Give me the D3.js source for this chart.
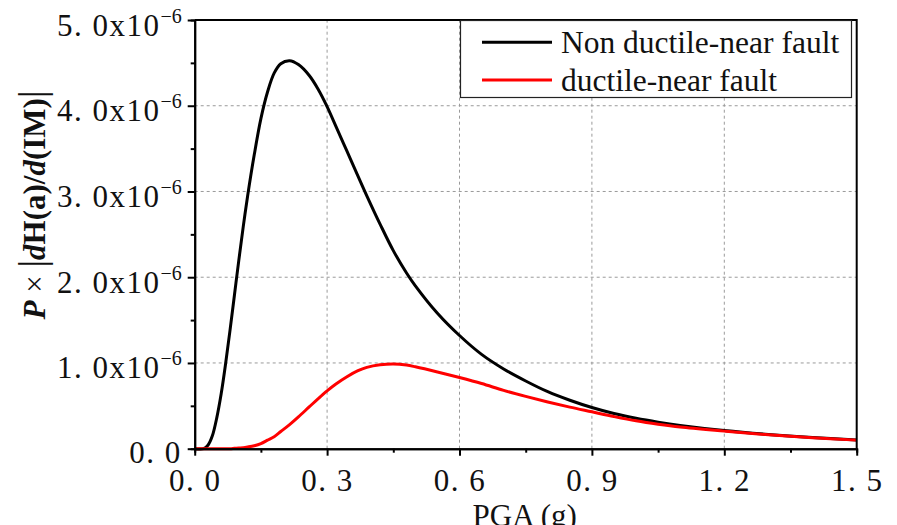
<!DOCTYPE html>
<html>
<head>
<meta charset="utf-8">
<script src="https://cdn.jsdelivr.net/npm/d3@7/dist/d3.min.js"></script>
<style>
  body { margin: 0; background: #fff; }
  svg { display: block; font-family: "Liberation Serif", "Times New Roman", serif; }
</style>
</head>
<body>
<svg id="chart" width="897" height="525"></svg>
<script>
// values, in units of 1e-6
const unit = 1e-6;
const pga = [0, 0.02, 0.03, 0.04, 0.05, 0.06, 0.07, 0.08, 0.09, 0.10, 0.11, 0.12, 0.135, 0.15, 0.165,
  0.18, 0.195, 0.215, 0.235, 0.26, 0.28, 0.30, 0.32, 0.345, 0.37, 0.39, 0.42, 0.45, 0.48, 0.50, 0.55,
  0.60, 0.65, 0.70, 0.75, 0.80, 0.85, 0.90, 0.95, 1.00, 1.05, 1.10, 1.20, 1.30, 1.40, 1.50];
const nonDuctile = [0, 0, 0.04, 0.15, 0.36, 0.64, 0.99, 1.38, 1.79, 2.20, 2.59, 2.95, 3.43, 3.85, 4.16,
  4.38, 4.49, 4.525, 4.48, 4.35, 4.19, 3.99, 3.76, 3.47, 3.18, 2.95, 2.62, 2.31, 2.05, 1.90, 1.58,
  1.32, 1.10, 0.93, 0.79, 0.665, 0.565, 0.48, 0.41, 0.355, 0.31, 0.272, 0.212, 0.166, 0.13, 0.102];
const ductile = [0, 0, 0, 0, 0, 0, 0, 0, 0.004, 0.008, 0.012, 0.02, 0.035, 0.06, 0.10,
  0.14, 0.20, 0.28, 0.37, 0.49, 0.585, 0.675, 0.755, 0.84, 0.91, 0.948, 0.978, 0.988, 0.975, 0.955, 0.895,
  0.83, 0.76, 0.68, 0.61, 0.545, 0.485, 0.43, 0.375, 0.325, 0.285, 0.252, 0.205, 0.162, 0.128, 0.10];

const xTicks = [0, 0.3, 0.6, 0.9, 1.2, 1.5];
const xMinor = [0.15, 0.45, 0.75, 1.05, 1.35];
const yTicks = [0, 1, 2, 3, 4, 5];
const yMinor = [0.5, 1.5, 2.5, 3.5, 4.5];
const seriesNames = ["Non ductile-near fault", "ductile-near fault"];
const seriesColors = ["#000000", "#ff0000"];

const width = 897, height = 525;
const margin = { top: 20, right: 40.3, bottom: 76.3, left: 194.7 };

const svg = d3.select("#chart");

const x = d3.scaleLinear().domain([0, 1.5]).range([margin.left, width - margin.right]);
const y = d3.scaleLinear().domain([0, 5 * unit]).range([height - margin.bottom, margin.top]);

const fmt = d3.format(".1f");
const spaced = (v) => fmt(v).replace(".", ". ");

// grid
svg.append("g")
  .selectAll("line")
  .data(xTicks.slice(1, -1))
  .join("line")
  .attr("x1", (d) => x(d)).attr("x2", (d) => x(d))
  .attr("y1", y(0)).attr("y2", y(5 * unit))
  .attr("stroke", "#9a9a9a").attr("stroke-width", 1).attr("stroke-dasharray", "3,3");
svg.append("g")
  .selectAll("line")
  .data(yTicks.slice(1, -1))
  .join("line")
  .attr("x1", x(0)).attr("x2", x(1.5))
  .attr("y1", (d) => y(d * unit)).attr("y2", (d) => y(d * unit))
  .attr("stroke", "#9a9a9a").attr("stroke-width", 1).attr("stroke-dasharray", "3,3");

// curves
const series = [nonDuctile, ductile];
const line = d3.line()
  .x((d, i) => x(pga[i]))
  .y((d) => y(d * unit))
  .curve(d3.curveCatmullRom.alpha(0.5));

svg.append("g")
  .selectAll("path")
  .data(series)
  .join("path")
  .attr("d", (d) => line(d))
  .attr("fill", "none")
  .attr("stroke", (d, i) => seriesColors[i])
  .attr("stroke-width", 3)
  .attr("stroke-linejoin", "round");

// frame (top and right)
svg.append("path")
  .attr("d", `M${x(0)},${y(5 * unit)}H${x(1.5)}V${y(0)}`)
  .attr("fill", "none").attr("stroke", "#000").attr("stroke-width", 2);

// x axis
const xAxis = svg.append("g").attr("transform", `translate(0,${y(0)})`);
xAxis.call(d3.axisBottom(x).tickValues(xTicks).tickSize(7).tickSizeOuter(0).tickFormat(spaced));
xAxis.append("g").call(d3.axisBottom(x).tickValues(xMinor).tickSize(4).tickFormat(""));
xAxis.selectAll(".domain").attr("stroke-width", 2).attr("stroke", "#000");
xAxis.selectAll(".tick line").attr("stroke-width", 2).attr("stroke", "#000");
xAxis.selectAll(".tick text")
  .attr("y", 42).attr("dy", 0)
  .attr("font-size", 31).attr("fill", "#111")
  .attr("letter-spacing", 1.5)
  .attr("font-family", "Liberation Serif, serif");

// y axis
const yAxis = svg.append("g").attr("transform", `translate(${x(0)},0)`);
yAxis.call(d3.axisLeft(y).tickValues(yTicks.map((v) => v * unit)).tickSize(7).tickSizeOuter(0).tickFormat(""));
yAxis.append("g").call(d3.axisLeft(y).tickValues(yMinor.map((v) => v * unit)).tickSize(4).tickFormat(""));
yAxis.selectAll(".domain").attr("stroke-width", 2).attr("stroke", "#000");
yAxis.selectAll(".tick line").attr("stroke-width", 2).attr("stroke", "#000");
yAxis.selectAll(":scope > .tick").each(function (d) {
  const m = d / unit;
  const t = d3.select(this).append("text")
    .attr("x", -13).attr("y", 15)
    .attr("text-anchor", "end")
    .attr("fill", "#111")
    .attr("font-size", 31)
    .attr("font-family", "Liberation Serif, serif");
  if (m === 0) {
    t.attr("y", 14).attr("letter-spacing", 1.5).text(spaced(0));
  } else {
    t.append("tspan").attr("letter-spacing", 1.5).text(spaced(m) + "x10");
    t.append("tspan").attr("dy", -13).attr("font-size", 20).text("\u22126");
  }
});

// axis titles
svg.append("text")
  .attr("x", (x(0) + x(1.5)) / 2 - 1)
  .attr("y", 526)
  .attr("text-anchor", "middle")
  .attr("font-size", 31)
  .attr("fill", "#111")
  .text("PGA (g)");

const yTitle = svg.append("text")
  .attr("transform", "translate(45,205) rotate(-90)")
  .attr("text-anchor", "middle")
  .attr("font-size", 31)
  .attr("fill", "#111");
yTitle.append("tspan").attr("font-weight", "bold").attr("font-style", "italic").text("P");
yTitle.append("tspan").text(" \u00d7 ");
yTitle.append("tspan").attr("font-size", 38).text("|");
yTitle.append("tspan").attr("font-weight", "bold").attr("font-style", "italic").text("d");
yTitle.append("tspan").attr("font-weight", "bold").text("H(a)/");
yTitle.append("tspan").attr("font-weight", "bold").attr("font-style", "italic").text("d");
yTitle.append("tspan").attr("font-weight", "bold").text("(IM)");
yTitle.append("tspan").attr("font-size", 38).text("|");

// legend
const legend = svg.append("g");
legend.append("rect")
  .attr("x", 460.5).attr("y", 20.5)
  .attr("width", 391).attr("height", 77)
  .attr("fill", "#fff").attr("stroke", "#222").attr("stroke-width", 1.2);
const items = legend.selectAll(".item")
  .data(seriesNames)
  .join("g")
  .attr("class", "item")
  .attr("transform", (d, i) => `translate(482,${42.3 + i * 37.7})`);
items.append("line")
  .attr("x1", 0).attr("x2", 70)
  .attr("stroke", (d, i) => seriesColors[i])
  .attr("stroke-width", 3);
items.append("text")
  .attr("x", 79).attr("y", 10.5)
  .attr("font-size", 31.5)
  .attr("font-family", "Liberation Serif, serif")
  .attr("fill", "#111")
  .text((d) => d);
</script>
</body>
</html>
